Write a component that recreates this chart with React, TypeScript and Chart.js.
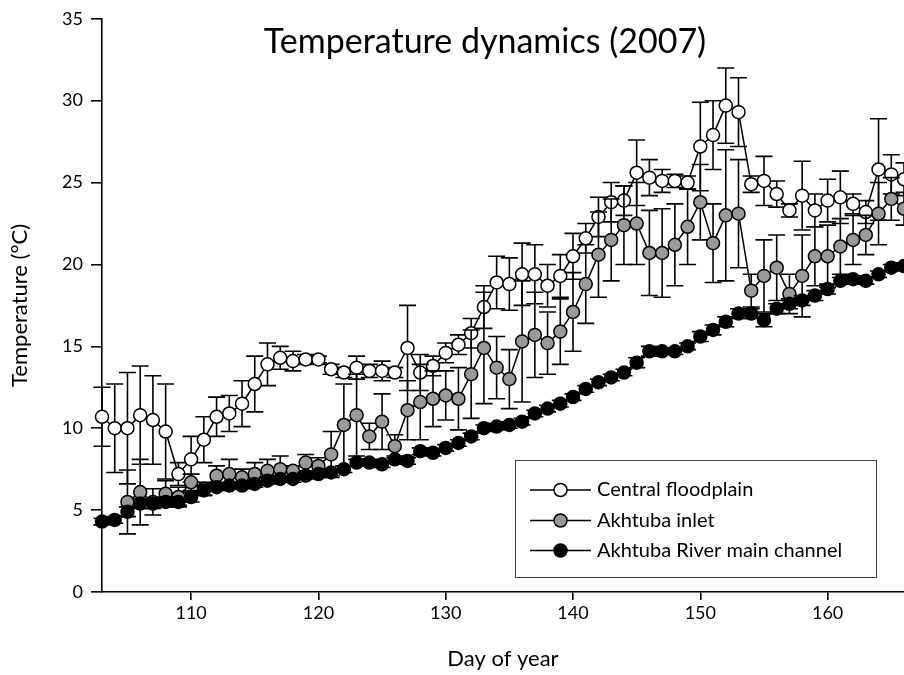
import React, { useEffect, useRef } from "react";
import { Chart, registerables } from "chart.js";

Chart.register(...registerables);

const days = [103,104,105,106,107,108,109,110,111,112,113,114,115,116,117,118,119,120,121,122,123,124,125,126,127,128,129,130,131,132,133,134,135,136,137,138,139,140,141,142,143,144,145,146,147,148,149,150,151,152,153,154,155,156,157,158,159,160,161,162,163,164,165,166];

const floodplain = [10.7,10.0,10.0,10.8,10.5,9.8,7.2,8.1,9.3,10.7,10.9,11.5,12.7,13.9,14.3,14.1,14.2,14.2,13.6,13.4,13.7,13.5,13.5,13.4,14.9,13.4,13.8,14.6,15.1,15.8,17.4,18.9,18.8,19.4,19.4,18.7,19.3,20.5,21.6,22.9,23.8,23.9,25.6,25.3,25.1,25.1,25.0,27.2,27.9,29.7,29.3,24.9,25.1,24.3,23.3,24.2,23.3,23.9,24.1,23.7,23.2,25.8,25.5,25.2];
const floodplainErr = [1.8,2.7,3.4,3.0,2.7,2.9,0.7,1.4,1.4,1.2,1.1,1.4,1.7,1.3,0.7,0.6,0.3,0.2,0.3,0.3,0.7,0.4,0.6,0.3,2.6,1.1,0.6,0.6,0.6,0.9,1.3,1.6,1.6,1.9,1.8,1.3,1.3,1.4,0.9,1.2,1.2,0.9,2.0,1.1,0.7,0.4,0.4,2.7,2.1,2.3,2.1,0.5,1.5,0.8,0.4,2.1,1.0,1.3,1.6,0.6,0.7,3.1,1.2,1.0];

const inlet = [null,null,5.5,6.1,5.5,6.0,5.8,6.7,6.3,7.1,7.2,7.0,7.2,7.4,7.5,7.4,7.9,7.7,8.4,10.2,10.8,9.5,10.4,8.9,11.1,11.6,11.8,12.0,11.8,13.3,14.9,13.7,13.0,15.3,15.7,15.2,15.9,17.1,18.8,20.6,21.5,22.4,22.5,20.7,20.7,21.2,22.3,23.8,21.3,23.0,23.1,18.4,19.3,19.8,18.2,19.3,20.5,20.5,21.1,21.5,21.8,23.1,24.0,23.4];
const inletErr = [0,0,1.95,2.0,0.8,0.8,0.6,0.5,0.4,0.6,0.9,0.5,0.7,0.7,0.8,0.3,0.5,0.5,1.4,2.5,2.5,0.8,1.7,0.7,1.8,2.3,1.7,1.5,1.9,2.7,3.4,1.9,1.8,3.7,2.6,1.9,2.0,2.4,2.4,2.6,2.5,2.4,2.5,2.6,2.7,2.5,2.3,2.3,2.4,4.0,3.3,1.0,2.2,2.0,1.2,2.5,1.8,1.9,1.7,1.5,1.2,1.9,1.3,1.0];

const mainChannel = [4.3,4.4,4.9,5.4,5.4,5.5,5.5,5.8,6.2,6.4,6.5,6.5,6.6,6.8,6.9,6.9,7.1,7.2,7.3,7.5,7.9,7.9,7.8,8.1,8.0,8.6,8.5,8.8,9.1,9.5,10.0,10.1,10.2,10.4,10.9,11.2,11.5,11.9,12.4,12.8,13.1,13.4,14.0,14.7,14.7,14.7,15.0,15.6,16.0,16.5,17.0,17.0,16.6,17.3,17.6,17.8,18.1,18.5,19.0,19.1,19.0,19.4,19.8,19.9];
const mainChannelErr = [0.2,0.2,0.3,0.3,0.3,0.3,0.2,0.3,0.3,0.2,0.2,0.2,0.2,0.2,0.2,0.2,0.2,0.2,0.2,0.2,0.2,0.2,0.2,0.2,0.2,0.2,0.2,0.2,0.2,0.2,0.2,0.2,0.2,0.2,0.2,0.2,0.2,0.2,0.2,0.2,0.2,0.2,0.3,0.3,0.2,0.2,0.2,0.3,0.3,0.3,0.3,0.3,0.4,0.3,0.3,0.3,0.3,0.3,0.2,0.2,0.2,0.2,0.2,0.2];

const seriesLabels = ["Central floodplain", "Akhtuba inlet", "Akhtuba River main channel"];
const xTicks = [110, 120, 130, 140, 150, 160];
const yTicks = [0, 5, 10, 15, 20, 25, 30, 35];
const titleText = "Temperature dynamics (2007)";
const xTitle = "Day of year";
const yTitle = "Temperature (°C)";

const FONT = "Lato";

const errorBarPlugin = {
  id: "errorBars",
  beforeDatasetDraw(chart: any, args: any) {
    const ds = chart.data.datasets[args.index];
    const errs = ds.errors;
    if (!errs) return;
    const meta = chart.getDatasetMeta(args.index);
    const ys = chart.scales.y;
    const ctx = chart.ctx;
    ctx.save();
    ctx.strokeStyle = "#000";
    ctx.lineWidth = 1.6;
    const cap = 8.5;
    meta.data.forEach((pt: any, i: number) => {
      const v = ds.data[i]?.y;
      if (v == null || !errs[i]) return;
      const x = pt.x;
      const yTop = ys.getPixelForValue(v + errs[i]);
      const yBot = ys.getPixelForValue(v - errs[i]);
      ctx.beginPath();
      ctx.moveTo(x, yTop);
      ctx.lineTo(x, yBot);
      ctx.moveTo(x - cap, yTop);
      ctx.lineTo(x + cap, yTop);
      ctx.moveTo(x - cap, yBot);
      ctx.lineTo(x + cap, yBot);
      ctx.stroke();
    });
    ctx.restore();
  },
};

const overlayPlugin = {
  id: "overlay",
  afterDraw(chart: any) {
    const ctx = chart.ctx;
    ctx.save();
    ctx.fillStyle = "#000";
    ctx.font = `34px ${FONT}`;
    ctx.textAlign = "center";
    ctx.textBaseline = "alphabetic";
    ctx.fillText(titleText, 485, 53);
    const bx = 515, by = 460, bw = 361, bh = 117;
    ctx.fillStyle = "#fff";
    ctx.fillRect(bx, by, bw, bh);
    ctx.strokeStyle = "#444";
    ctx.lineWidth = 1;
    ctx.strokeRect(bx + 0.5, by + 0.5, bw, bh);
    const rows = [490, 520.5, 550.5];
    chart.data.datasets.forEach((ds: any, i: number) => {
      const y = rows[i];
      ctx.strokeStyle = "#000";
      ctx.lineWidth = 1.5;
      ctx.beginPath();
      ctx.moveTo(530, y);
      ctx.lineTo(591, y);
      ctx.stroke();
      ctx.beginPath();
      ctx.arc(560.5, y, 6.5, 0, Math.PI * 2);
      ctx.fillStyle = ds.pointBackgroundColor;
      ctx.fill();
      ctx.stroke();
      ctx.fillStyle = "#000";
      ctx.font = `20px ${FONT}`;
      ctx.textAlign = "left";
      ctx.textBaseline = "middle";
      ctx.fillText(ds.label, 597, y);
    });
    ctx.restore();
  },
};

export default function App() {
  const ref = useRef<HTMLCanvasElement>(null);
  useEffect(() => {
    if (!ref.current) return;
    const mk = (vals: (number | null)[]) => days.map((d, i) => ({ x: d, y: vals[i] }));
    const common = {
      borderColor: "#000",
      borderWidth: 1.5,
      pointRadius: 6.5,
      pointHoverRadius: 6.5,
      pointBorderColor: "#000",
      pointBorderWidth: 1.5,
      showLine: true,
      spanGaps: false,
      clip: false as any,
    };
    const chart = new Chart(ref.current, {
      type: "scatter",
      data: {
        datasets: [
          { ...common, label: seriesLabels[0], data: mk(floodplain), errors: floodplainErr, pointBackgroundColor: "#ffffff", backgroundColor: "#ffffff", order: 3 } as any,
          { ...common, label: seriesLabels[1], data: mk(inlet), errors: inletErr, pointBackgroundColor: "#999999", backgroundColor: "#999999", order: 2 } as any,
          { ...common, label: seriesLabels[2], data: mk(mainChannel), errors: mainChannelErr, pointBackgroundColor: "#000000", backgroundColor: "#000000", order: 1 } as any,
        ],
      },
      options: {
        responsive: false,
        animation: false,
        events: [],
        layout: { autoPadding: false, padding: { left: 0, right: 0, top: 15, bottom: 0 } },
        plugins: { legend: { display: false }, title: { display: false }, tooltip: { enabled: false } },
        scales: {
          x: {
            type: "linear",
            min: 103,
            max: 166,
            afterFit: (s: any) => { s.height = 83; },
            afterBuildTicks: (s: any) => { s.ticks = xTicks.map((v) => ({ value: v })); },
            border: { display: true, color: "#000", width: 1.6 },
            grid: { display: true, drawOnChartArea: false, drawTicks: true, tickLength: 8, color: "#000", lineWidth: 1.6 },
            ticks: { color: "#000", font: { family: FONT, size: 18 }, padding: 2, maxRotation: 0 },
            title: { display: true, text: xTitle, color: "#000", font: { family: FONT, size: 22 }, padding: { top: 0, bottom: 3 } },
          },
          y: {
            type: "linear",
            min: 0,
            max: 35,
            afterFit: (s: any) => { s.width = 102; },
            afterBuildTicks: (s: any) => { s.ticks = yTicks.map((v) => ({ value: v })); },
            border: { display: true, color: "#000", width: 1.6 },
            grid: { display: true, drawOnChartArea: false, drawTicks: true, tickLength: 11, color: "#000", lineWidth: 1.6 },
            ticks: { color: "#000", font: { family: FONT, size: 18 }, padding: 8 },
            title: { display: true, text: yTitle, color: "#000", font: { family: FONT, size: 22 }, padding: { top: 7, bottom: 0 } },
          },
        },
      },
      plugins: [errorBarPlugin, overlayPlugin],
    });
    return () => chart.destroy();
  }, []);
  return (
    <div style={{ position: "absolute", left: 0, top: 0, width: 904, height: 675, background: "#fff" }}>
      <canvas ref={ref} width={904} height={675} style={{ display: "block" }} />
    </div>
  );
}
